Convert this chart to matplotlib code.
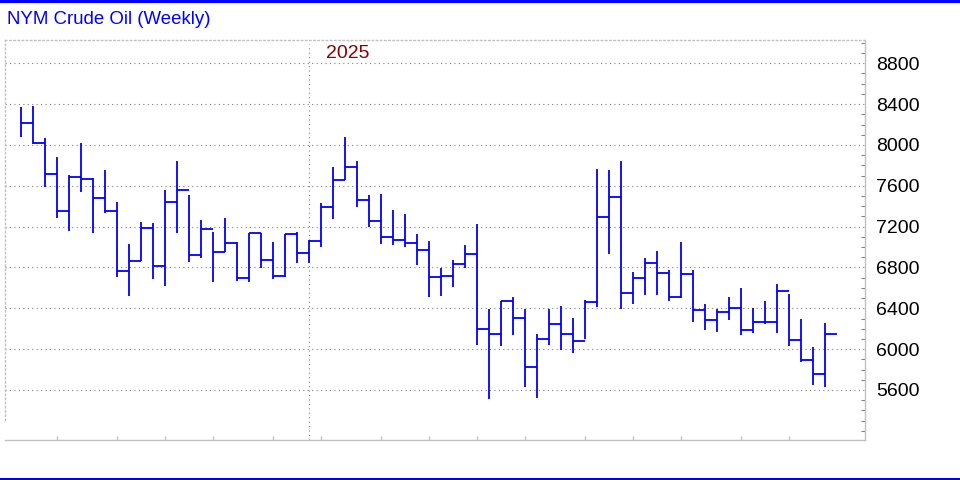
import matplotlib
matplotlib.use("Agg")
import matplotlib.pyplot as plt
from matplotlib.lines import Line2D

plt.rcParams['font.family'] = ['Liberation Sans', 'DejaVu Sans']

# weekly HLC bars
highs = [8369, 8385, 8065, 7879, 7703, 8019, 7680, 7752, 7438, 7027,
         7243, 7233, 7559, 7843, 7507, 7262, 7145, 7282, 7053, 7141,
         7141, 7047, 7131, 7145, 7069, 7429, 7781, 8078, 7843, 7507,
         7520, 7363, 7324, 7128, 7059, 6792, 6873, 7020, 7223, 6390,
         6475, 6511, 6390, 6149, 6390, 6420, 6302, 6479, 7765, 7755,
         7843, 6756, 6890, 6962, 6775, 7050, 6772, 6439, 6390, 6511,
         6599, 6403, 6472, 6638, 6540, 6295, 6021, 6253]
lows = [8075, 8010, 7591, 7288, 7160, 7542, 7141, 7331, 6710, 6524,
        6864, 6690, 6622, 7141, 6857, 6896, 6661, 6949, 6671, 6655,
        6798, 6690, 6704, 6841, 6847, 7004, 7278, 7660, 7395, 7194,
        7033, 7017, 7004, 6827, 6514, 6524, 6612, 6792, 6038, 5509,
        6034, 6142, 5632, 5525, 6044, 5995, 5965, 6102, 6416, 6935,
        6396, 6445, 6533, 6533, 6469, 6504, 6269, 6191, 6171, 6289,
        6142, 6161, 6249, 6155, 6034, 5871, 5652, 5632]
closes = [8218, 8020, 7719, 7356, 7689, 7670, 7484, 7356, 6766, 6864,
          7190, 6818, 7441, 7562, 6925, 7180, 6952, 7043, 6697, 7135,
          6876, 6717, 7125, 6945, 7062, 7395, 7660, 7787, 7464, 7258,
          7102, 7072, 7040, 6974, 6707, 6720, 6831, 6935, 6198, 6151,
          6470, 6308, 5825, 6103, 6249, 6151, 6080, 6462, 7297, 7493,
          6553, 6700, 6847, 6743, 6511, 6739, 6387, 6283, 6367, 6406,
          6191, 6269, 6269, 6573, 6093, 5897, 5760, 6149]
month_ticks = [3, 8, 12, 16, 21, 25, 30, 34, 38, 42, 47, 51, 55, 60, 64]
year_start = 24
year_label = "2025"
price_ticks = [5600, 6000, 6400, 6800, 7200, 7600, 8000, 8400, 8800]

weeks = list(range(len(closes)))

fig = plt.figure(figsize=(9.6, 4.8), dpi=100)
ax = fig.add_axes([5 / 960, 40 / 480, 860 / 960, 400 / 480])

ax.vlines(weeks, lows, highs, color='#0000ff', linewidth=1.3)
ax.hlines(closes, weeks, [w + 1 for w in weeks], color='#0000ff', linewidth=1.3)

ax.set_xlim(-1.33, 70.33)
ax.set_ylim(5110, 9028)

for p in price_ticks:
    ax.axhline(p, color='#808080', linestyle=(0, (1, 3)), linewidth=0.8, zorder=0)
ax.axvline(year_start, color='#808080', linestyle=(0, (1, 3)), linewidth=0.8,
           ymax=0.99, zorder=0)
ax.text(25.4, 8900, year_label, color='#8b0000', fontsize=14, va='center', ha='left')

ax.yaxis.tick_right()
ax.set_yticks(price_ticks)
ax.set_yticklabels([str(p) for p in price_ticks], fontsize=14)
ax.set_yticks(range(5200, 9001, 100), minor=True)
ax.tick_params(axis='y', which='major', length=0, pad=8)
ax.tick_params(axis='y', which='minor', direction='in', length=3, color='#808080', width=0.8)
ax.set_xticks(month_ticks)
ax.set_xticklabels([])
ax.tick_params(axis='x', direction='in', length=3, color='#c0c0c0', width=1)

ax.spines['left'].set_linestyle((0, (1, 2)))
ax.spines['left'].set_bounds(5310, 9028)
ax.spines['top'].set_linestyle((0, (1, 2)))
for s in ['left', 'top', 'right', 'bottom']:
    ax.spines[s].set_color('#c0c0c0')
    ax.spines[s].set_linewidth(1)

fig.text(7 / 960, 1 - 20 / 480, "NYM Crude Oil (Weekly)", color='#0000ff',
         fontsize=13.4, va='center', ha='left')
fig.add_artist(Line2D([0, 1], [1 - 1 / 480, 1 - 1 / 480], color='#0000ff', linewidth=2.2))
fig.add_artist(Line2D([0, 1], [1.2 / 480, 1.2 / 480], color='#0000ff', linewidth=2.2))

plt.savefig("out.png", dpi=100)
